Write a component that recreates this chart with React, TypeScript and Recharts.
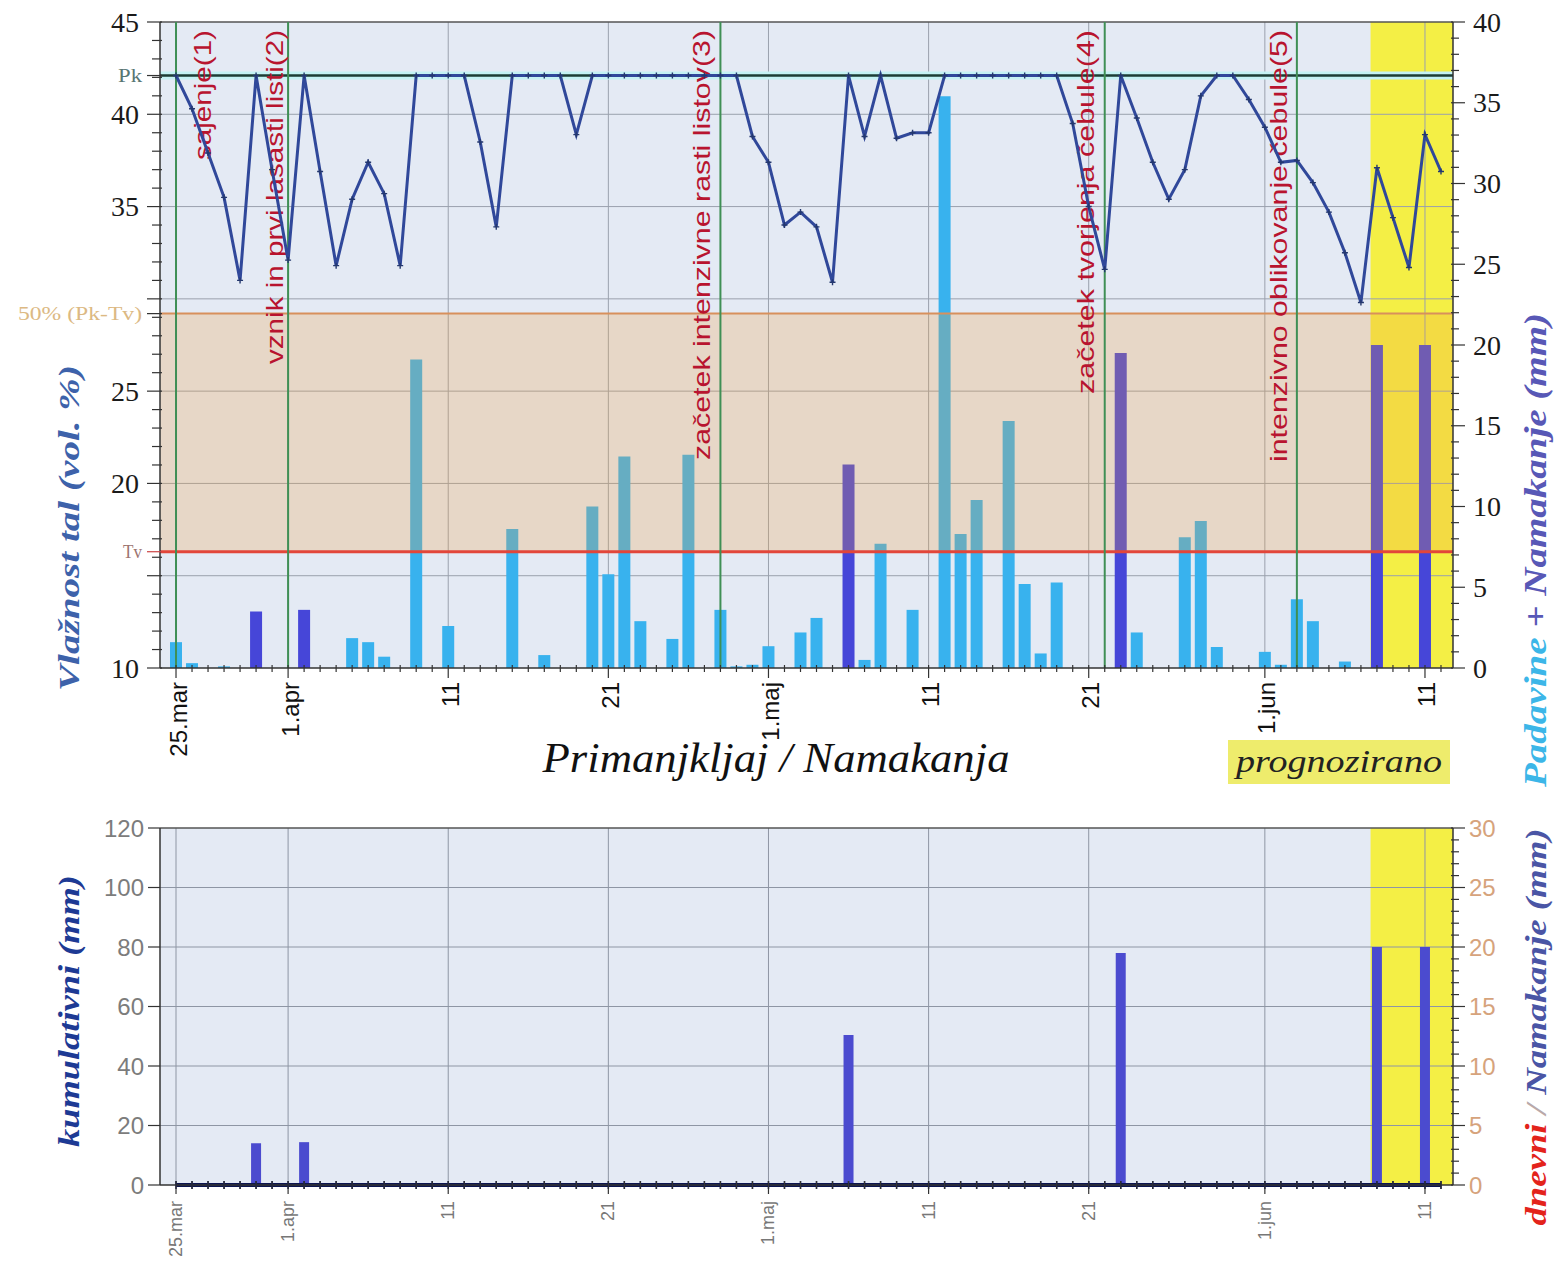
import React from "react";
import {
  ComposedChart,
  Line,
  Bar,
  XAxis,
  YAxis,
  ReferenceArea,
  ReferenceLine,
} from "recharts";

// soil moisture thresholds (vol. %)
const PK = 42.1;
const TV = 16.3;
const HALF = 29.2; // 50% (Pk-Tv)

// day 0 = 25.mar ... day 79 = 12.jun
const days = Array.from({ length: 80 }, (_, i) => i);
const dateLabels: Record<number, string> = {
  0: "25.mar",
  7: "1.apr",
  17: "11",
  27: "21",
  37: "1.maj",
  47: "11",
  57: "21",
  68: "1.jun",
  78: "11",
};
const majorDays = [0, 7, 17, 27, 37, 47, 57, 68, 78];
const forecastFrom = 74.6;

// Vlažnost tal (vol. %)
const vlaznost = [
  42.1, 40.3, 37.9, 35.5, 31.0, 42.1, 37.0, 32.1, 42.1, 36.9,
  31.8, 35.4, 37.4, 35.7, 31.8, 42.1, 42.1, 42.1, 42.1, 38.5,
  33.9, 42.1, 42.1, 42.1, 42.1, 38.9, 42.1, 42.1, 42.1, 42.1,
  42.1, 42.1, 42.1, 42.1, 42.1, 42.1, 38.8, 37.4, 34.0, 34.7,
  33.9, 30.9, 42.1, 38.8, 42.1, 38.7, 39.0, 39.0, 42.1, 42.1,
  42.1, 42.1, 42.1, 42.1, 42.1, 42.1, 39.5, 35.0, 31.6, 42.1,
  39.8, 37.4, 35.4, 37.0, 41.0, 42.1, 42.1, 40.8, 39.3, 37.4,
  37.5, 36.3, 34.7, 32.5, 29.8, 37.1, 34.4, 31.7, 38.9, 36.9,
];

// Padavine (mm)
const padavine = [
  1.6, 0.3, 0, 0.1, 0, 0, 0, 0, 0, 0,
  0, 1.85, 1.6, 0.7, 0, 19.1, 0, 2.6, 0, 0,
  0, 8.6, 0, 0.8, 0, 0, 10.0, 5.8, 13.1, 2.9,
  0, 1.8, 13.2, 0, 3.6, 0.1, 0.2, 1.35, 0, 2.2,
  3.1, 0, 0, 0.5, 7.7, 0, 3.6, 0, 35.4, 8.3,
  10.4, 0, 15.3, 5.2, 0.9, 5.3, 0, 0, 0, 0,
  2.2, 0, 0, 8.1, 9.1, 1.3, 0, 0, 1.0, 0.2,
  4.25, 2.9, 0, 0.4, 0, 0, 0, 0, 0, 0,
];

// Namakanje (mm)
const namakanje = [
  0, 0, 0, 0, 0, 3.5, 0, 0, 3.6, 0,
  0, 0, 0, 0, 0, 0, 0, 0, 0, 0,
  0, 0, 0, 0, 0, 0, 0, 0, 0, 0,
  0, 0, 0, 0, 0, 0, 0, 0, 0, 0,
  0, 0, 12.6, 0, 0, 0, 0, 0, 0, 0,
  0, 0, 0, 0, 0, 0, 0, 0, 0, 19.5,
  0, 0, 0, 0, 0, 0, 0, 0, 0, 0,
  0, 0, 0, 0, 0, 20.0, 0, 0, 20.0, 0,
];

// kumulativni (mm) - drawn flat at zero
const kumulativni = [
  0, 0, 0, 0, 0, 0, 0, 0, 0, 0, 0, 0, 0, 0, 0, 0, 0, 0, 0, 0,
  0, 0, 0, 0, 0, 0, 0, 0, 0, 0, 0, 0, 0, 0, 0, 0, 0, 0, 0, 0,
  0, 0, 0, 0, 0, 0, 0, 0, 0, 0, 0, 0, 0, 0, 0, 0, 0, 0, 0, 0,
  0, 0, 0, 0, 0, 0, 0, 0, 0, 0, 0, 0, 0, 0, 0, 0, 0, 0, 0, 0,
];

const phases = [
  { day: 0, text: "sajenje(1)", dx: 26, len: 130 },
  { day: 7, text: "vznik in prvi lasasti listi(2)", dx: -14, len: 334 },
  { day: 34, text: "začetek intenzivne rasti listov(3)", dx: -19, len: 430 },
  { day: 58, text: "začetek tvorjenja čebule(4)", dx: -19, len: 364 },
  { day: 70, text: "intenzivno oblikovanje čebule(5)", dx: -18, len: 432 },
];

const topLeftTicks = [
  10, 11, 12, 13, 14, 15, 16, TV, 17, 18, 19, 20, 21, 22, 23, 24, 25, 26, 27, 28,
  29, HALF, 30, 31, 32, 33, 34, 35, 36, 37, 38, 39, 40, 41, 42, PK, 43, 44, 45,
];
const topLeftNumbers = [10, 20, 25, 35, 40, 45];
const topLeftSpecial: Record<string, { t: string; c: string; s: number; len: number }> = {
  [String(PK)]: { t: "Pk", c: "#587673", s: 19, len: 24 },
  [String(HALF)]: { t: "50% (Pk-Tv)", c: "#dcb983", s: 18, len: 124 },
  [String(TV)]: { t: "Tv", c: "#9c7470", s: 19, len: 19 },
};
const topRightTicks = Array.from({ length: 41 }, (_, i) => i);
const botLeftTicks = [0, 20, 40, 60, 80, 100, 120];
const botRightTicks = Array.from({ length: 31 }, (_, i) => i);

const topData = days.map((d, i) => ({
  day: d,
  vlaznost: vlaznost[i],
  padavine: padavine[i],
  namakanje: namakanje[i],
}));
const botData = days.map((d, i) => ({
  day: d,
  kumulativni: kumulativni[i],
  namakanje: namakanje[i],
}));

const SANS = "'Liberation Sans', Arial, sans-serif";
const SERIF = "'Liberation Serif', 'Times New Roman', serif";

const TopXTick = ({ x, y, payload }: any) => {
  const lbl = dateLabels[payload.value];
  const ty = y + 14;
  return (
    <g>
      <line x1={x} x2={x} y1={y - 3} y2={lbl ? y + 10 : y + 4} stroke="#333" strokeWidth={1.2} />
      {lbl && (
        <text
          x={x + 2}
          y={ty}
          transform={`rotate(-90 ${x + 2} ${ty})`}
          textAnchor="end"
          dominantBaseline="central"
          fontFamily={SANS}
          fontSize={24}
          fill="#111"
        >
          {lbl}
        </text>
      )}
    </g>
  );
};

const BotXTick = ({ x, y, payload }: any) => {
  const lbl = dateLabels[payload.value];
  const ty = y + 16;
  return (
    <g>
      <line x1={x} x2={x} y1={y - 4} y2={lbl ? y + 9 : y + 4} stroke="#333" strokeWidth={1.2} />
      {lbl && (
        <text
          x={x}
          y={ty}
          transform={`rotate(-90 ${x} ${ty})`}
          textAnchor="end"
          dominantBaseline="central"
          fontFamily={SANS}
          fontSize={18}
          fill="#777"
        >
          {lbl}
        </text>
      )}
    </g>
  );
};

const TopLeftTick = ({ x, y, payload }: any) => {
  const v = payload.value;
  const sp = topLeftSpecial[String(v)];
  const major = !!sp || v % 5 === 0;
  return (
    <g>
      <line x1={major ? x - 13 : x - 8} x2={x + 2} y1={y} y2={y} stroke={sp && v === TV ? "#c44" : "#333"} strokeWidth={1.2} />
      {topLeftNumbers.includes(v) && (
        <text x={x - 21} y={y} textAnchor="end" dominantBaseline="central" fontFamily={SERIF} fontSize={28} fill="#1a1a1a">
          {v}
        </text>
      )}
      {sp && (
        <text
          x={x - 18}
          y={y}
          textAnchor="end"
          dominantBaseline="central"
          fontFamily={SERIF}
          fontSize={sp.s}
          fill={sp.c}
          textLength={sp.len}
          lengthAdjust="spacingAndGlyphs"
        >
          {sp.t}
        </text>
      )}
    </g>
  );
};

const TopRightTick = ({ x, y, payload }: any) => {
  const v = payload.value;
  const major = v % 5 === 0;
  return (
    <g>
      <line x1={x - 2} x2={major ? x + 12 : x + 6} y1={y} y2={y} stroke="#333" strokeWidth={1.2} />
      {major && (
        <text x={x + 20} y={y} textAnchor="start" dominantBaseline="central" fontFamily={SERIF} fontSize={28} fill="#1a1a1a">
          {v}
        </text>
      )}
    </g>
  );
};

const BotLeftTick = ({ x, y, payload }: any) => (
  <g>
    <line x1={x - 12} x2={x} y1={y} y2={y} stroke="#333" strokeWidth={1.2} />
    <text x={x - 16} y={y} textAnchor="end" dominantBaseline="central" fontFamily={SANS} fontSize={24} fill="#7c7c7c">
      {payload.value}
    </text>
  </g>
);

const BotRightTick = ({ x, y, payload }: any) => {
  const v = payload.value;
  const major = v % 5 === 0;
  return (
    <g>
      <line x1={x - 2} x2={major ? x + 12 : x + 6} y1={y} y2={y} stroke="#333" strokeWidth={1.2} />
      {major && (
        <text x={x + 16} y={y} textAnchor="start" dominantBaseline="central" fontFamily={SANS} fontSize={24} fill="#d6a37c">
          {v}
        </text>
      )}
    </g>
  );
};

const PhaseLabel = (props: any) => {
  const { viewBox, text, dx, len } = props;
  if (!viewBox) return null;
  const x = viewBox.x + dx;
  const y = viewBox.y + 8;
  return (
    <text
      x={x}
      y={y}
      transform={`rotate(-90 ${x} ${y})`}
      textAnchor="end"
      dominantBaseline="central"
      fontFamily={SANS}
      fontSize={24}
      fill="#b8142f"
      textLength={len}
      lengthAdjust="spacingAndGlyphs"
    >
      {text}
    </text>
  );
};

const CrossDot = (p: any) => {
  if (p.cx == null || p.cy == null) return <g key={p.index} />;
  return (
    <path
      key={p.index}
      d={`M${p.cx - 3},${p.cy}h6M${p.cx},${p.cy - 3}v6`}
      stroke="#24386e"
      strokeWidth={1.4}
    />
  );
};

const TickDot = (p: any) => {
  if (p.cx == null || p.cy == null) return <g key={p.index} />;
  return <path key={p.index} d={`M${p.cx},${p.cy - 4}v8`} stroke="#0c1550" strokeWidth={1.5} />;
};

const gridLeft = [15, 20, 25, 30, 35, 40];
const gridBot = [20, 40, 60, 80, 100];

function TopChart() {
  return (
    <ComposedChart width={1568} height={800} data={topData} margin={{ top: 22, right: 0, bottom: 0, left: 0 }}>
      <XAxis
        dataKey="day"
        type="number"
        domain={[-1, 79.75]}
        ticks={days}
        interval={0}
        allowDataOverflow
        height={132}
        tickSize={0}
        tickMargin={0}
        tickLine={false}
        tick={<TopXTick />}
        axisLine={{ stroke: "#333", strokeWidth: 1.5 }}
      />
      <YAxis
        yAxisId="left"
        orientation="left"
        width={160}
        domain={[10, 45]}
        ticks={topLeftTicks}
        interval={0}
        allowDataOverflow
        tickSize={0}
        tickMargin={0}
        tickLine={false}
        tick={<TopLeftTick />}
        axisLine={{ stroke: "#333", strokeWidth: 1.5 }}
      />
      <YAxis
        yAxisId="right"
        orientation="right"
        width={115}
        domain={[0, 40]}
        ticks={topRightTicks}
        interval={0}
        allowDataOverflow
        tickSize={0}
        tickMargin={0}
        tickLine={false}
        tick={<TopRightTick />}
        axisLine={{ stroke: "#333", strokeWidth: 1.5 }}
      />

      <ReferenceArea yAxisId="left" y1={10} y2={45} fill="#e4eaf4" fillOpacity={1} stroke="none" zIndex={10} />
      <ReferenceArea yAxisId="left" x1={forecastFrom} x2={79.75} fill="#f4ef45" fillOpacity={1} stroke="none" zIndex={20} />
      {gridLeft.map((v) => (
        <ReferenceLine key={"gy" + v} yAxisId="left" y={v} stroke="#9aa1ad" strokeWidth={1} zIndex={30} />
      ))}
      {majorDays.map((d) => (
        <ReferenceLine key={"gx" + d} yAxisId="left" x={d} stroke="#9aa1ad" strokeWidth={1} zIndex={30} />
      ))}

      <Bar yAxisId="right" dataKey="padavine" stackId="mm" fill="#38b2ee" barSize={12} isAnimationActive={false} zIndex={300} />
      <Bar yAxisId="right" dataKey="namakanje" stackId="mm" fill="#4646d8" barSize={12} isAnimationActive={false} zIndex={300} />

      <ReferenceArea yAxisId="left" y1={TV} y2={HALF} fill="#f0a040" fillOpacity={0.25} stroke="none" zIndex={350} />
      <ReferenceLine yAxisId="left" y={HALF} stroke="#d8905c" strokeWidth={2} zIndex={360} />
      <ReferenceLine yAxisId="left" y={TV} stroke="#e2463a" strokeWidth={3} zIndex={360} />
      <ReferenceLine yAxisId="left" y={PK} stroke="#c4f2f4" strokeWidth={8} zIndex={360} />
      <ReferenceLine yAxisId="left" y={PK} stroke="#1d3d35" strokeWidth={2.5} zIndex={361} />
      <ReferenceLine yAxisId="left" y={45} stroke="#555" strokeWidth={1.5} zIndex={361} />

      {phases.map((p) => (
        <ReferenceLine
          key={"ph" + p.day}
          yAxisId="left"
          x={p.day}
          stroke="#3f8f55"
          strokeWidth={2}
          zIndex={370}
          label={<PhaseLabel text={p.text} dx={p.dx} len={p.len} />}
        />
      ))}

      <Line
        yAxisId="left"
        type="linear"
        dataKey="vlaznost"
        stroke="#30489a"
        strokeWidth={3}
        dot={CrossDot}
        activeDot={false}
        isAnimationActive={false}
        zIndex={400}
      />
    </ComposedChart>
  );
}

function BottomChart() {
  return (
    <ComposedChart width={1568} height={492} data={botData} margin={{ top: 38, right: 0, bottom: 0, left: 0 }}>
      <XAxis
        dataKey="day"
        type="number"
        domain={[-1, 79.75]}
        ticks={days}
        interval={0}
        allowDataOverflow
        height={97}
        tickSize={0}
        tickMargin={0}
        tickLine={false}
        tick={<BotXTick />}
        axisLine={{ stroke: "#333", strokeWidth: 1.5 }}
      />
      <YAxis
        yAxisId="left"
        orientation="left"
        width={160}
        domain={[0, 120]}
        ticks={botLeftTicks}
        interval={0}
        tickSize={0}
        tickMargin={0}
        tickLine={false}
        tick={<BotLeftTick />}
        axisLine={{ stroke: "#333", strokeWidth: 1.5 }}
      />
      <YAxis
        yAxisId="right"
        orientation="right"
        width={115}
        domain={[0, 30]}
        ticks={botRightTicks}
        interval={0}
        tickSize={0}
        tickMargin={0}
        tickLine={false}
        tick={<BotRightTick />}
        axisLine={{ stroke: "#333", strokeWidth: 1.5 }}
      />

      <ReferenceArea yAxisId="left" y1={0} y2={120} fill="#e4eaf4" fillOpacity={1} stroke="none" zIndex={10} />
      <ReferenceArea yAxisId="left" x1={forecastFrom} x2={79.75} fill="#f4ef45" fillOpacity={1} stroke="none" zIndex={20} />
      {gridBot.map((v) => (
        <ReferenceLine key={"by" + v} yAxisId="left" y={v} stroke="#8e96a4" strokeWidth={1} zIndex={30} />
      ))}
      {majorDays.map((d) => (
        <ReferenceLine key={"bx" + d} yAxisId="left" x={d} stroke="#8e96a4" strokeWidth={1} zIndex={30} />
      ))}
      <ReferenceLine yAxisId="left" y={120} stroke="#555" strokeWidth={1.5} zIndex={31} />

      <Bar yAxisId="right" dataKey="namakanje" fill="#4b4bcf" barSize={10} isAnimationActive={false} zIndex={300} />
      <Line
        yAxisId="left"
        type="linear"
        dataKey="kumulativni"
        stroke="#0c1550"
        strokeWidth={4}
        dot={TickDot}
        activeDot={false}
        isAnimationActive={false}
        zIndex={400}
      />
    </ComposedChart>
  );
}

function Titles() {
  const vt = (x: number, y: number) => `rotate(-90 ${x} ${y})`;
  return (
    <svg width={1568} height={1282} style={{ position: "absolute", left: 0, top: 0, pointerEvents: "none" }}>
      <text
        x={68}
        y={528}
        transform={vt(68, 528)}
        textAnchor="middle"
        dominantBaseline="central"
        fontFamily={SERIF}
        fontStyle="italic"
        fontWeight="bold"
        fontSize={30}
        fill="#3d62aa"
        textLength={326}
        lengthAdjust="spacingAndGlyphs"
      >
        Vlažnost tal (vol. %)
      </text>
      <text
        x={1535}
        y={550}
        transform={vt(1535, 550)}
        textAnchor="middle"
        dominantBaseline="central"
        fontFamily={SERIF}
        fontStyle="italic"
        fontWeight="bold"
        fontSize={31}
        textLength={474}
        lengthAdjust="spacingAndGlyphs"
      >
        <tspan fill="#3cb6e8">Padavine</tspan>
        <tspan fill="#5858b6"> + Namakanje (mm)</tspan>
      </text>
      <text
        x={776}
        y={772}
        textAnchor="middle"
        fontFamily={SERIF}
        fontStyle="italic"
        fontSize={42}
        fill="#111"
        textLength={467}
        lengthAdjust="spacingAndGlyphs"
      >
        Primanjkljaj / Namakanja
      </text>
      <rect x={1228} y={740} width={222} height={44} fill="#eeec6c" />
      <text
        x={1339}
        y={772}
        textAnchor="middle"
        fontFamily={SERIF}
        fontStyle="italic"
        fontSize={32}
        fill="#222"
        textLength={206}
        lengthAdjust="spacingAndGlyphs"
      >
        prognozirano
      </text>
      <text
        x={68}
        y={1011}
        transform={vt(68, 1011)}
        textAnchor="middle"
        dominantBaseline="central"
        fontFamily={SERIF}
        fontStyle="italic"
        fontWeight="bold"
        fontSize={30}
        fill="#1d3a94"
        textLength={272}
        lengthAdjust="spacingAndGlyphs"
      >
        kumulativni (mm)
      </text>
      <text
        x={1535}
        y={1027}
        transform={vt(1535, 1027)}
        textAnchor="middle"
        dominantBaseline="central"
        fontFamily={SERIF}
        fontStyle="italic"
        fontWeight="bold"
        fontSize={30}
        textLength={397}
        lengthAdjust="spacingAndGlyphs"
      >
        <tspan fill="#e3231b">dnevni</tspan>
        <tspan fill="#b9a9a9"> / </tspan>
        <tspan fill="#4a55a5">Namakanje (mm)</tspan>
      </text>
    </svg>
  );
}

export default function App() {
  return (
    <div style={{ position: "absolute", left: 0, top: 0, width: 1568, height: 1282, background: "#fff" }}>
      <div style={{ position: "absolute", left: 0, top: 0 }}>
        <TopChart />
      </div>
      <div style={{ position: "absolute", left: 0, top: 790 }}>
        <BottomChart />
      </div>
      <Titles />
    </div>
  );
}
